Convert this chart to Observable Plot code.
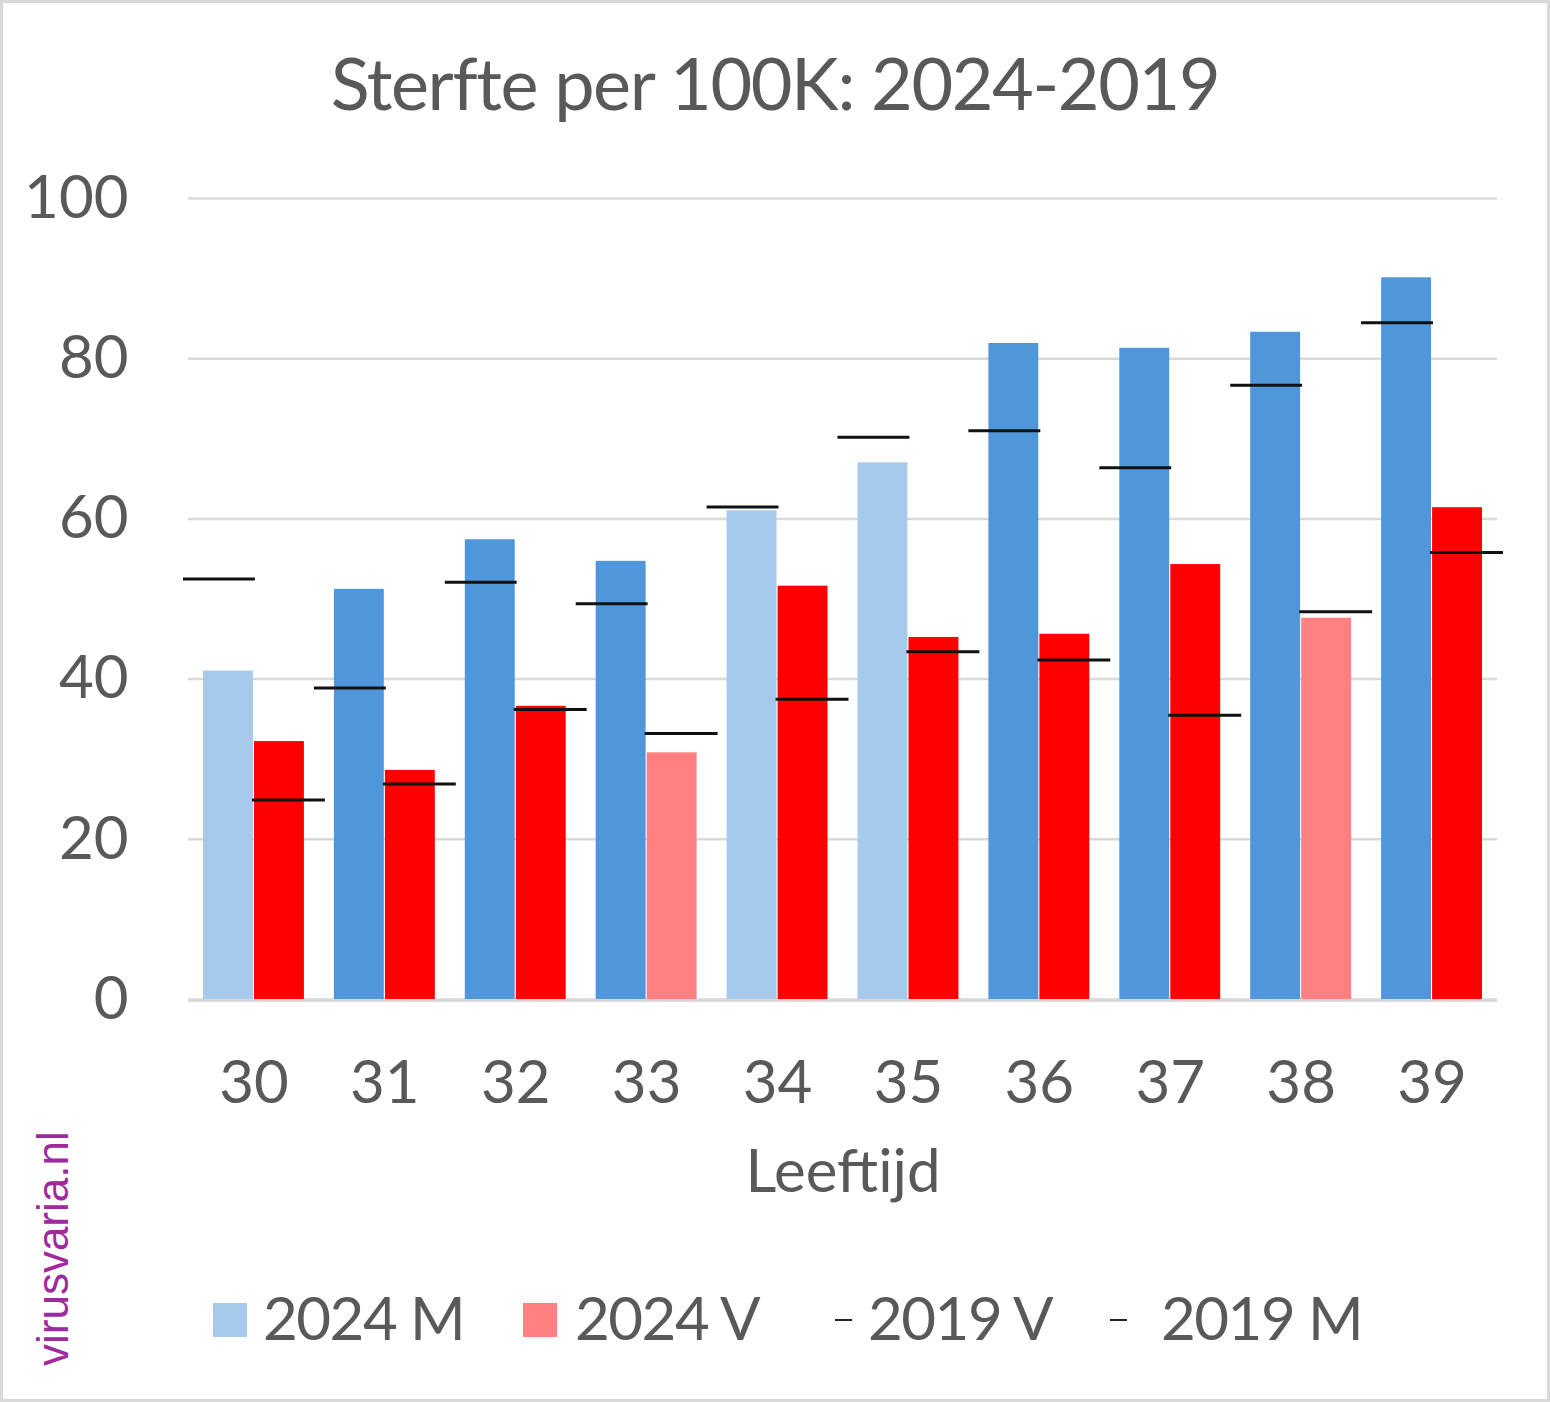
<!DOCTYPE html>
<html>
<head>
<meta charset="utf-8">
<script src="https://cdn.jsdelivr.net/npm/d3@7"></script>
<script src="https://cdn.jsdelivr.net/npm/@observablehq/plot@0.6"></script>
<style>
  body { margin: 0; background: #fff; }
  #page { position: relative; width: 1550px; height: 1402px; overflow: hidden; font-family: Lato, sans-serif; color: #595959; background: #fff; }
  #border { position: absolute; left: 0; top: 0; width: 1550px; height: 1402px; box-sizing: border-box; border: 3px solid #d9d9d9; pointer-events: none; }
  #title { position: absolute; left: 0; top: 46px; width: 1550px; text-align: center; font-size: 72px; line-height: 72px; letter-spacing: -1.4px; white-space: nowrap; }
  #chart { position: absolute; left: 0; top: 0; }
  .lg-text { position: absolute; top: 1287px; font-size: 60px; line-height: 60px; letter-spacing: -1.5px; white-space: nowrap; }
  .lg-swatch { position: absolute; top: 1303px; width: 34px; height: 34px; }
  .lg-dash { position: absolute; top: 1319px; width: 17px; height: 2px; background: #222; }
  #watermark { position: absolute; left: 31px; top: 1366px; transform-origin: 0 0; transform: rotate(-90deg); font-family: "Liberation Sans", Arial, sans-serif; font-size: 44px; line-height: 44px; color: #9e2a9e; white-space: nowrap; }
</style>
</head>
<body>
<div id="page">
  <div id="chart"></div>
  <div id="title"></div>
  <div id="legend"></div>
  <div id="watermark">virusvaria.nl</div>
  <div id="border"></div>
</div>
<script>
// ---- data ----
const ages = ["30", "31", "32", "33", "34", "35", "36", "37", "38", "39"];
const m2024 = [41.0, 51.2, 57.4, 54.7, 61.0, 67.0, 81.9, 81.3, 83.3, 90.1];
const v2024 = [32.2, 28.6, 36.6, 30.8, 51.6, 45.2, 45.6, 54.3, 47.6, 61.4];
const m2019 = [52.5, 38.9, 52.1, 49.4, 61.5, 70.2, 71.0, 66.4, 76.7, 84.5];
const v2019 = [24.9, 26.9, 36.2, 33.2, 37.5, 43.4, 42.4, 35.5, 48.4, 55.8];
const yTicks = [0, 20, 40, 60, 80, 100];
const titleText = "Sterfte per 100K: 2024-2019";
const xLabel = "Leeftijd";
const legendLabels = ["2024 M", "2024 V", "2019 V", "2019 M"];

// ---- styles ----
const BLUE = "#4f96db", BLUE_LIGHT = "#a7c9ec";
const RED = "#ff0000", RED_LIGHT = "#ff8080";
const TEXT = "#595959", GRID = "#d9d9d9", MARK = "#111111";

const rows = ages.map((a, i) => ({ age: a, m24: m2024[i], v24: v2024[i], m19: m2019[i], v19: v2019[i] }));

document.getElementById("title").textContent = titleText;

const chart = Plot.plot({
  width: 1550,
  height: 1230,
  marginTop: 198,
  marginBottom: 231,
  marginLeft: 188,
  marginRight: 53,
  style: { fontFamily: "Lato, sans-serif", fontSize: "60px", color: TEXT, background: "transparent", overflow: "visible" },
  x: { type: "band", domain: ages, padding: 0, round: false, label: null },
  y: { domain: [0, 100], label: null },
  color: { type: "identity" },
  marks: [
    Plot.ruleY(yTicks, { stroke: GRID, strokeWidth: 2.5 }),
    Plot.barY(rows, { x: "age", y: "m24", fill: d => d.m24 < d.m19 ? BLUE_LIGHT : BLUE, insetLeft: 15, insetRight: 66 }),
    Plot.barY(rows, { x: "age", y: "v24", fill: d => d.v24 < d.v19 ? RED_LIGHT : RED, insetLeft: 66, insetRight: 15 }),
    Plot.ruleY([0], { stroke: GRID, strokeWidth: 3, dy: 1 }),
    Plot.tickY(rows, { x: "age", y: "m19", stroke: MARK, strokeWidth: 3, insetLeft: -5, insetRight: 64 }),
    Plot.tickY(rows, { x: "age", y: "v19", stroke: MARK, strokeWidth: 3, insetLeft: 64, insetRight: -6 }),
    Plot.axisY({ ticks: yTicks, tickSize: 0, tickPadding: 60, fontSize: 60, fill: TEXT, label: null }),
    Plot.axisX({ tickSize: 0, tickPadding: 61, fontSize: 60, fill: TEXT, label: null }),
    Plot.text([xLabel], { text: d => d, frameAnchor: "bottom", dy: 192, fontSize: 60, fill: TEXT })
  ]
});
document.getElementById("chart").appendChild(chart);

// ---- legend ----
const legend = document.getElementById("legend");
function add(cls, left, extra) {
  const el = document.createElement("div");
  el.className = cls;
  el.style.left = left + "px";
  Object.assign(el.style, extra || {});
  legend.appendChild(el);
  return el;
}
add("lg-swatch", 213, { background: BLUE_LIGHT });
add("lg-text", 263).textContent = legendLabels[0];
add("lg-swatch", 523, { background: RED_LIGHT });
add("lg-text", 575).textContent = legendLabels[1];
add("lg-dash", 835);
add("lg-text", 868).textContent = legendLabels[2];
add("lg-dash", 1110);
add("lg-text", 1161).textContent = legendLabels[3];
</script>
</body>
</html>
